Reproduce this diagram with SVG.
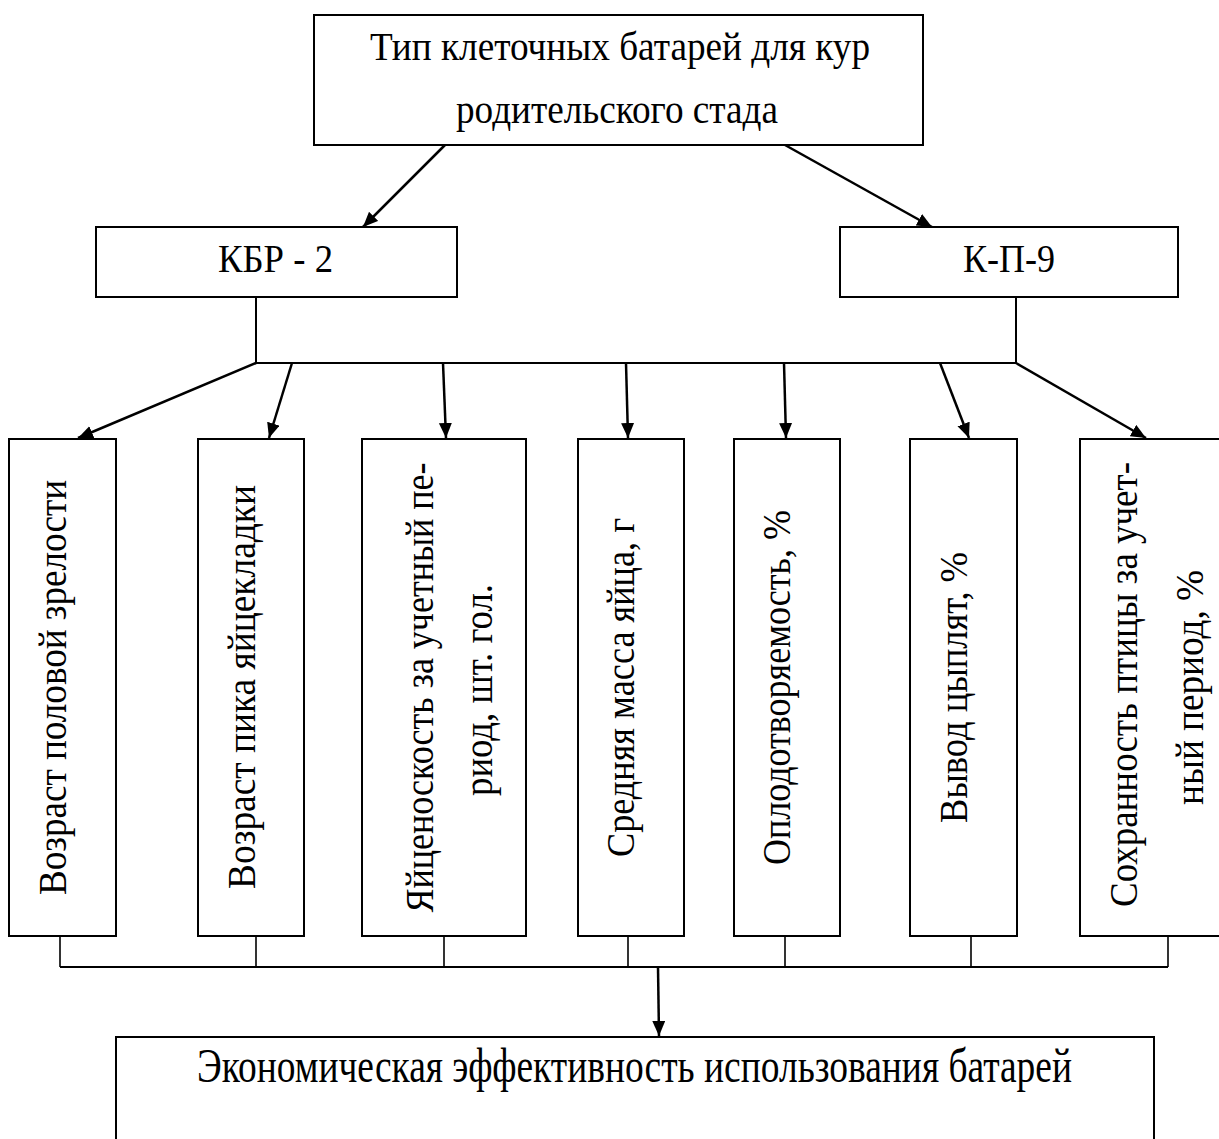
<svg xmlns="http://www.w3.org/2000/svg" width="1219" height="1139" viewBox="0 0 1219 1139">
<defs>
<style>
.box{fill:#fff;stroke:#000;stroke-width:2}
.t{font-family:"Liberation Serif","Times New Roman",serif;fill:#000}
.h{font-size:40px;text-anchor:middle}
.v{font-size:39px;text-anchor:middle}
.c{stroke:#000;stroke-width:2;fill:none}
.a{stroke:#000;stroke-width:2.5;fill:none;marker-end:url(#ah)}
.thin{stroke:#000;stroke-width:1.6;fill:none}
</style>
<marker id="ah" markerUnits="userSpaceOnUse" markerWidth="16" markerHeight="14" refX="15" refY="6.5" orient="auto">
<path d="M0,0 L15,6.5 L0,13 z" fill="#000"/>
</marker>
</defs>
<rect width="1219" height="1139" fill="#fff"/>
<g id="connectors">
<line class="a" x1="445" y1="145" x2="363" y2="227"/>
<line class="a" x1="785" y1="145" x2="932" y2="227"/>
<line class="c" x1="256" y1="297" x2="256" y2="363"/>
<line class="c" x1="1016" y1="297" x2="1016" y2="363"/>
<line class="c" x1="256" y1="363" x2="1016" y2="363"/>
<line class="a" x1="256" y1="363" x2="78" y2="438"/>
<line class="a" x1="292" y1="363" x2="269" y2="438"/>
<line class="a" x1="443" y1="363" x2="446" y2="438"/>
<line class="a" x1="626" y1="363" x2="628" y2="438"/>
<line class="a" x1="784" y1="363" x2="786" y2="438"/>
<line class="a" x1="940" y1="363" x2="969" y2="438"/>
<line class="a" x1="1016" y1="363" x2="1146" y2="438"/>
<line class="thin" x1="60" y1="936" x2="60" y2="967"/>
<line class="thin" x1="256" y1="936" x2="256" y2="967"/>
<line class="thin" x1="444" y1="936" x2="444" y2="967"/>
<line class="thin" x1="628" y1="936" x2="628" y2="967"/>
<line class="thin" x1="785" y1="936" x2="785" y2="967"/>
<line class="thin" x1="971" y1="936" x2="971" y2="967"/>
<line class="thin" x1="1168" y1="936" x2="1168" y2="967"/>
<line class="c" x1="60" y1="967" x2="1168" y2="967"/>
<line class="a" x1="658" y1="967" x2="659" y2="1036"/>
</g>
<g id="top">
<rect class="box" x="314" y="15" width="609" height="130"/>
<text class="t h" x="620" y="60" textLength="500" lengthAdjust="spacingAndGlyphs">Тип клеточных батарей для кур</text>
<text class="t h" x="617" y="123" textLength="322" lengthAdjust="spacingAndGlyphs">родительского стада</text>
</g>
<g id="kbr">
<rect class="box" x="96" y="227" width="361" height="70"/>
<text class="t h" x="275.5" y="272" textLength="115" lengthAdjust="spacingAndGlyphs">КБР - 2</text>
</g>
<g id="kp">
<rect class="box" x="840" y="227" width="338" height="70"/>
<text class="t h" x="1009" y="272" textLength="92" lengthAdjust="spacingAndGlyphs">К-П-9</text>
</g>
<g id="b1">
<rect class="box" x="9" y="439" width="107" height="497"/>
<text class="t v" transform="translate(66,687.5) rotate(-90)" textLength="415" lengthAdjust="spacingAndGlyphs">Возраст половой зрелости</text>
</g>
<g id="b2">
<rect class="box" x="198" y="439" width="106" height="497"/>
<text class="t v" transform="translate(255,687) rotate(-90)" textLength="404" lengthAdjust="spacingAndGlyphs">Возраст пика яйцекладки</text>
</g>
<g id="b3">
<rect class="box" x="362" y="439" width="164" height="497"/>
<text class="t v" transform="translate(433,687.5) rotate(-90)" textLength="450" lengthAdjust="spacingAndGlyphs">Яйценоскость за учетный пе-</text>
<text class="t v" transform="translate(492,690) rotate(-90)" textLength="212" lengthAdjust="spacingAndGlyphs">риод, шт. гол.</text>
</g>
<g id="b4">
<rect class="box" x="578" y="439" width="106" height="497"/>
<text class="t v" transform="translate(634,687.5) rotate(-90)" textLength="339" lengthAdjust="spacingAndGlyphs">Средняя масса яйца, г</text>
</g>
<g id="b5">
<rect class="box" x="734" y="439" width="106" height="497"/>
<text class="t v" transform="translate(790,687.5) rotate(-90)" textLength="355" lengthAdjust="spacingAndGlyphs">Оплодотворяемость, %</text>
</g>
<g id="b6">
<rect class="box" x="910" y="439" width="107" height="497"/>
<text class="t v" transform="translate(967,687.5) rotate(-90)" textLength="271" lengthAdjust="spacingAndGlyphs">Вывод цыплят, %</text>
</g>
<g id="b7">
<rect class="box" x="1080" y="439" width="160" height="497"/>
<text class="t v" transform="translate(1137,684.5) rotate(-90)" textLength="445" lengthAdjust="spacingAndGlyphs">Сохранность птицы за учет-</text>
<text class="t v" transform="translate(1203,687.5) rotate(-90)" textLength="235" lengthAdjust="spacingAndGlyphs">ный период, %</text>
</g>
<g id="bottom">
<rect class="box" x="116" y="1037" width="1038" height="140"/>
<text class="t" x="634.5" y="1082" font-size="48" text-anchor="middle" textLength="875" lengthAdjust="spacingAndGlyphs">Экономическая эффективность использования батарей</text>
</g>
</svg>
